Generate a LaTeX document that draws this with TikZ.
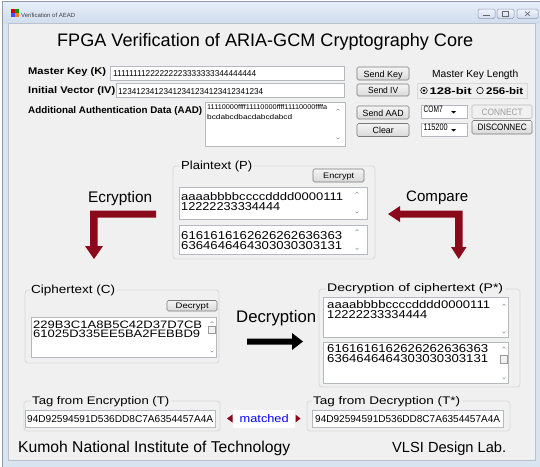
\documentclass[tikz,border=0pt]{standalone}
\usepackage{fontspec}
\setmainfont{Liberation Sans}
\usepackage{graphicx}
\definecolor{bgc}{HTML}{F0F0F0}
\definecolor{frameblue}{HTML}{D9E4F1}
\definecolor{frameline}{HTML}{8E9AAA}
\definecolor{titletop}{HTML}{E6EEF8}
\definecolor{titlebot}{HTML}{D0DDEE}
\definecolor{arrowred}{HTML}{8A0A1C}
\definecolor{boxline}{HTML}{B5B8BE}
\definecolor{grpline}{HTML}{D8D8D8}
\definecolor{btnline}{HTML}{7A7A7A}
\definecolor{scrollc}{HTML}{9A9A9A}
\newcommand\fw[2]{\resizebox{#1pt}{!}{#2}}
\newcommand\fwh[3]{\resizebox{#1pt}{#2pt}{#3}}
\tikzset{
  lbl/.style={anchor=base west, inner sep=0pt},
  ctr/.style={anchor=center, inner sep=0pt},
  tbox/.style={draw=boxline, fill=white, line width=0.7pt},
  grp/.style={draw=grpline, rounded corners=3pt, line width=0.8pt},
  btn/.style={draw=btnline, rounded corners=1.5pt, top color=white!96!black, bottom color=white!85!black, line width=0.6pt},
  dbtn/.style={draw=btnline!50, rounded corners=1.5pt, fill=white!94!black, line width=0.6pt},
  tbtn/.style={draw=frameline, rounded corners=1.5pt, top color=white!95!blue, bottom color=titlebot, line width=0.5pt},
  scr/.style={draw=scrollc, line width=0.5pt},
  thumb/.style={draw=scrollc, fill=white!95!black, line width=0.5pt},
  redarrow/.style={fill=arrowred},
  glbl/.style={anchor=base west, inner xsep=1.5pt, inner ysep=0pt, fill=bgc}
}
\begin{document}
\begin{tikzpicture}[x=1pt,y=-1pt]
\useasboundingbox (0,0) rectangle (540,466);
\fill[white] (0,0) rectangle (540,466);
% window frame
\fill[frameblue] (2,1) rectangle (541,467);
\draw[frameline, line width=0.8pt] (2.5,467) -- (2.5,1.5) -- (541,1.5);
\shade[top color=titletop, bottom color=titlebot] (3,2) rectangle (541,23);
\fill[bgc] (8,23) rectangle (535,460);
\draw[frameline!60, line width=0.5pt] (8,23) rectangle (535,460);
% title bar icon
\fill[red!80!black] (11,9) rectangle (15,13);
\fill[blue!70] (11,13) rectangle (15,17);
\fill[orange] (15,13) rectangle (19,17);
\fill[green!60!black] (15,9) rectangle (19,13);
\node[lbl, text=black!75] (wintitle) at (21,17) {\fw{54}{Verification of AEAD}};
% title bar buttons
\draw[tbtn] (478,9) rectangle (495,18.5);
\draw[tbtn] (497,9) rectangle (514,18.5);
\draw[tbtn] (517,9) rectangle (538,18.5);
\draw[black!60, line width=0.6pt] (483,15.5) -- (490,15.5);
\draw[black!60, line width=0.5pt] (502.5,11.5) rectangle (508.5,16);
\draw[black!60, line width=0.6pt] (525,11.5) -- (530,16) (525,16) -- (530,11.5);
% main title
\node[lbl] (maintitle) at (57,46) {\fw{416}{FPGA Verification of ARIA-GCM Cryptography Core}};
% input rows
\node[lbl] (lkey) at (28,74.5) {\fwh{78}{7}{\textbf{Master Key (K)}}};
\draw[tbox] (110,66.5) rectangle (344,80.5);
\node[lbl] (vkey) at (113,76.5) {\fwh{143}{6}{11111111222222223333333344444444}};
\node[lbl] (liv) at (28,93) {\fwh{87}{7}{\textbf{Initial Vector (IV)}}};
\draw[tbox] (116,83.5) rectangle (344,97);
\node[lbl] (viv) at (118,94) {\fwh{145}{6}{12341234123412341234123412341234}};
\node[lbl] (laad) at (28,113.5) {\fwh{174}{7}{\textbf{Additional Authentication Data (AAD)}}};
\draw[tbox] (205,102) rectangle (345,146);
\node[lbl] (vaad1) at (207,109.5) {\fwh{120}{5}{11110000ffff11110000ffff11110000ffffa}};
\node[lbl] (vaad2) at (207,119) {\fwh{85}{5}{bcdabcdbacdabcdabcd}};
\draw[scr] (336.5,110.5) -- (338,109) -- (339.5,110.5);
\draw[scr] (336.5,137.5) -- (338,139) -- (339.5,137.5);
% buttons
\draw[btn] (357,67) rectangle (409,80);
\node[lbl] (bkey) at (363.5,77) {\fwh{39}{6.5}{Send Key}};
\draw[btn] (357,84) rectangle (409,96);
\node[lbl] (biv) at (368,93.5) {\fwh{30}{6.5}{Send IV}};
\draw[btn] (357,106) rectangle (409,119);
\node[lbl] (baad) at (362.5,116) {\fwh{41}{6.5}{Send AAD}};
\draw[btn] (357,123.5) rectangle (409,136.5);
\node[lbl] (bclr) at (372.5,133.5) {\fwh{21}{6.5}{Clear}};
% key length
\node[lbl] (lklen) at (432,77) {\fwh{86}{7.5}{Master Key Length}};
\draw[draw=grpline, line width=0.6pt] (417,83) rectangle (527,98);
\draw[black, line width=0.6pt] (424,90.5) circle (3.3);
\fill[black] (424,90.5) circle (1.3);
\node[lbl] (r128) at (429.5,94) {\fwh{42}{7}{\textbf{128-bit}}};
\draw[black, line width=0.6pt] (480,90.5) circle (3.3);
\node[lbl] (r256) at (486,94) {\fwh{37}{7}{\textbf{256-bit}}};
% combos
\draw[tbox] (421,105) rectangle (467,118);
\node[lbl] (com) at (423.5,112) {\fwh{19}{6.5}{COM7}};
\fill[black] (451,111) -- (456,111) -- (453.5,113.5) -- cycle;
\draw[tbox] (421,123) rectangle (467,136);
\node[lbl] (baud) at (423.5,130) {\fwh{24}{6.5}{115200}};
\fill[black] (451,129) -- (456,129) -- (453.5,131.5) -- cycle;
\draw[dbtn] (472,105) rectangle (532,118.5);
\node[lbl, text=black!38] (bcon) at (481.5,115) {\fwh{41}{6.5}{CONNECT}};
\draw[btn] (472,120.5) rectangle (532,134);
\node[lbl] (bdis) at (477.5,130) {\fwh{49}{6.5}{DISCONNEC}};
% plaintext group
\draw[grp] (173,166) rectangle (375,259);
\node[glbl] (lpt) at (179.5,169.5) {\fwh{71}{8.5}{Plaintext (P)}};
\draw[btn] (313,169) rectangle (364,182);
\node[lbl] (benc) at (323,178.5) {\fwh{31}{5.5}{Encrypt}};
\draw[tbox] (179,187) rectangle (367,219);
\node[lbl] (pt1) at (181,200) {\fwh{162}{8}{aaaabbbbccccdddd0000111}};
\node[lbl] (pt2) at (181,210) {\fwh{99}{8}{12222233334444}};
\draw[scr] (355.5,193.5) -- (357,192) -- (358.5,193.5);
\draw[scr] (355.5,211.5) -- (357,213) -- (358.5,211.5);
\draw[tbox] (179,225) rectangle (367,254);
\node[lbl] (ph1) at (181,239) {\fwh{161}{8}{6161616162626262636363}};
\node[lbl] (ph2) at (181,249) {\fwh{161}{8}{6364646464303030303131}};
\draw[scr] (355.5,231) -- (357,229.5) -- (358.5,231);
\draw[scr] (355.5,248) -- (357,249.5) -- (358.5,248);
% Ecryption arrow
\node[lbl] (lecr) at (88,202) {\fw{64}{Ecryption}};
\path[redarrow] (156,210.5) -- (90,210.5) -- (90,246) -- (85,246) -- (94,259) -- (103,246) -- (97.5,246) -- (97.5,217.5) -- (156,217.5) -- cycle;
% Compare arrow
\node[lbl] (lcmp) at (406,201) {\fw{62}{Compare}};
\path[redarrow] (462.5,210.5) -- (400,210.5) -- (400,206) -- (388,214) -- (400,222) -- (400,217.5) -- (455,217.5) -- (455,247) -- (451,247) -- (458.75,259) -- (466.5,247) -- (462.5,247) -- cycle;
% ciphertext group
\draw[grp] (25,290) rectangle (219,363);
\node[glbl] (lct) at (29.5,293.5) {\fwh{84}{8.5}{Ciphertext (C)}};
\draw[btn] (167,300.5) rectangle (217,311);
\node[lbl] (bdec) at (175.5,308.5) {\fwh{33}{5.5}{Decrypt}};
\draw[tbox] (31,317) rectangle (216,357);
\node[lbl] (ct1) at (33,328) {\fwh{169}{7.5}{229B3C1A8B5C42D37D7CB}};
\node[lbl] (ct2) at (33,337.5) {\fwh{167}{7.5}{61025D335EE5BA2FEBBD9}};
\draw[scr] (210.5,323) -- (212,321.5) -- (213.5,323);
\draw[thumb] (208.5,326) rectangle (215,333.5);
\draw[scr] (210.5,350.5) -- (212,352) -- (213.5,350.5);
% Decryption arrow
\node[lbl] (ldec) at (236,322) {\fw{80}{Decryption}};
\fill[black] (247,338.5) -- (292,338.5) -- (292,333) -- (303,341.5) -- (292,350) -- (292,344.5) -- (247,344.5) -- cycle;
% decryption group
\draw[grp] (319,289) rectangle (520,387);
\node[glbl] (lpd) at (325.5,291.5) {\fwh{176}{8}{Decryption of ciphertext (P*)}};
\draw[tbox] (323,297) rectangle (508,337);
\node[lbl] (pd1) at (327,308) {\fwh{163}{8}{aaaabbbbccccdddd0000111}};
\node[lbl] (pd2) at (327,318) {\fwh{100}{8}{12222233334444}};
\draw[scr] (502.5,305.5) -- (504,304) -- (505.5,305.5);
\draw[scr] (502.5,331.5) -- (504,333) -- (505.5,331.5);
\draw[tbox] (323,342) rectangle (508,383);
\node[lbl] (pdh1) at (327,352.5) {\fwh{161}{8}{6161616162626262636363}};
\node[lbl] (pdh2) at (327,362.5) {\fwh{161}{8}{6364646464303030303131}};
\draw[scr] (502.5,348.5) -- (504,347) -- (505.5,348.5);
\draw[thumb] (500.5,355.5) rectangle (507,363.5);
\draw[scr] (502.5,377.5) -- (504,379) -- (505.5,377.5);
% tags
\draw[grp] (24,401) rectangle (220,431);
\node[glbl] (ltagT) at (30.5,404.5) {\fwh{137}{8}{Tag from Encryption (T)}};
\draw[tbox] (25,410) rectangle (215,427.5);
\node[lbl] (tagT) at (27,422) {\fwh{186}{7}{94D92594591D536DD8C7A6354457A4A}};
\draw[grp] (307,401) rectangle (510,431);
\node[glbl] (ltagTs) at (311.5,404.5) {\fwh{147}{8}{Tag from Decryption (T*)}};
\draw[tbox] (312,410) rectangle (503,427.5);
\node[lbl] (tagTs) at (315,422) {\fwh{185}{7}{94D92594591D536DD8C7A6354457A4A}};
\fill[white] (233,410) rectangle (295,427.5);
\node[lbl, text=blue] (match) at (239.5,422) {\fwh{49}{8}{matched}};
\fill[arrowred] (227,418.5) -- (232.5,414.5) -- (232.5,422.5) -- cycle;
\fill[arrowred] (300.5,418.5) -- (295.5,414.5) -- (295.5,422.5) -- cycle;
% footer
\node[lbl] (kumoh) at (18,452) {\fw{272}{Kumoh National Institute of Technology}};
\node[lbl] (vlsi) at (392,452) {\fw{114}{VLSI Design Lab.}};
\end{tikzpicture}
\end{document}
